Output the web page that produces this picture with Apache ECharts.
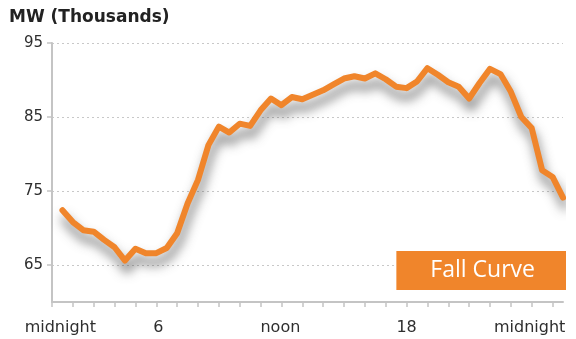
<!DOCTYPE html>
<html>
<head>
<meta charset="utf-8">
<script src="https://cdn.jsdelivr.net/npm/echarts@6/dist/echarts.min.js"></script>
<style>
  html, body { margin: 0; padding: 0; background: #fff; }
  #chart { width: 576px; height: 339px; }
</style>
</head>
<body>
<div id="chart"></div>
<script>
// Half-hourly system load over one autumn day (hours after midnight)
const hours = [0.5, 1, 1.5, 2, 2.5, 3, 3.5, 4, 4.5, 5, 5.5, 6, 6.5, 7, 7.5, 8,
  8.5, 9, 9.5, 10, 10.5, 11, 11.5, 12, 12.5, 13, 13.5, 14, 14.5, 15, 15.5, 16,
  16.5, 17, 17.5, 18, 18.5, 19, 19.5, 20, 20.5, 21, 21.5, 22, 22.5, 23, 23.5, 24, 24.5];
// Load in thousands of MW
const fallLoad = [72.4, 70.8, 69.7, 69.5, 68.4, 67.4, 65.6, 67.2, 66.6, 66.6, 67.3, 69.3,
  73.3, 76.5, 81.2, 83.7, 82.9, 84.1, 83.8, 85.9, 87.5, 86.6, 87.7, 87.4, 88.0, 88.6,
  89.4, 90.2, 90.5, 90.2, 90.9, 90.1, 89.1, 88.9, 89.8, 91.6, 90.7, 89.7, 89.1, 87.5,
  89.6, 91.5, 90.8, 88.4, 85.0, 83.5, 77.8, 76.9, 74.1];

// Axis ticks and labels
const hourTicks = [0, 1, 2, 3, 4, 5, 6, 7, 8, 9, 10, 11, 12, 13, 14, 15, 16, 17, 18, 19, 20, 21, 22, 23, 24];
const timeLabelAt = [0.4, 5.1, 10.95, 17.0, 22.9];
const timeLabels = ['midnight', '6', 'noon', '18', 'midnight'];
const loadTicks = [65, 75, 85, 95];

const ORANGE = '#F0852B';
const AXIS_GRAY = '#c4c4c4';
const TEXT = '#2e2e2e';

const chart = echarts.init(document.getElementById('chart'), null, { renderer: 'canvas' });

chart.setOption({
  animation: false,
  backgroundColor: '#ffffff',
  title: {
    text: 'MW (Thousands)',
    left: 9,
    top: 9,
    padding: 0,
    textStyle: { fontFamily: 'DejaVu Sans', fontWeight: 'bold', fontSize: 17, color: '#222' }
  },
  legend: {
    data: ['Fall Curve'],
    right: 10,
    top: 251,
    backgroundColor: ORANGE,
    borderRadius: 0,
    padding: [8, 31, 8, 29],
    itemWidth: 0,
    itemHeight: 0,
    icon: 'rect',
    selectedMode: false,
    textStyle: { fontFamily: 'Open Sans', fontSize: 23, color: '#ffffff' }
  },
  grid: { left: 52, right: 13, top: 43, bottom: 37, containLabel: false },
  xAxis: {
    type: 'value',
    min: 0,
    max: 24.5,
    axisLine: { show: true, lineStyle: { color: AXIS_GRAY, width: 2 } },
    axisTick: { show: true, customValues: hourTicks, length: 5, lineStyle: { color: AXIS_GRAY, width: 1.5 } },
    splitLine: { show: false },
    axisLabel: {
      customValues: timeLabelAt,
      margin: 18,
      fontFamily: 'DejaVu Sans',
      fontSize: 16,
      color: TEXT,
      formatter: function (v) {
        let best = 0;
        for (let i = 1; i < timeLabelAt.length; i++) {
          if (Math.abs(timeLabelAt[i] - v) < Math.abs(timeLabelAt[best] - v)) best = i;
        }
        return timeLabels[best];
      }
    }
  },
  yAxis: {
    type: 'value',
    min: 60,
    max: 95,
    interval: 5,
    axisLine: { show: true, lineStyle: { color: AXIS_GRAY, width: 2 } },
    axisTick: { show: true, customValues: loadTicks, length: 5, lineStyle: { color: AXIS_GRAY, width: 1.5 } },
    axisLabel: {
      customValues: loadTicks,
      margin: 9,
      fontFamily: 'DejaVu Sans',
      fontSize: 15,
      color: TEXT
    },
    splitLine: { show: true, lineStyle: { color: '#c8c8c8', type: [2, 3], width: 1 } }
  },
  series: [{
    name: 'Fall Curve',
    type: 'line',
    data: hours.map((h, i) => [h, fallLoad[i]]),
    symbol: 'none',
    clip: false,
    itemStyle: { color: ORANGE },
    lineStyle: {
      color: ORANGE,
      width: 6,
      join: 'round',
      cap: 'round',
      shadowColor: 'rgba(60,60,60,0.7)',
      shadowBlur: 11,
      shadowOffsetX: 2,
      shadowOffsetY: 9
    }
  }]
});
</script>
</body>
</html>
